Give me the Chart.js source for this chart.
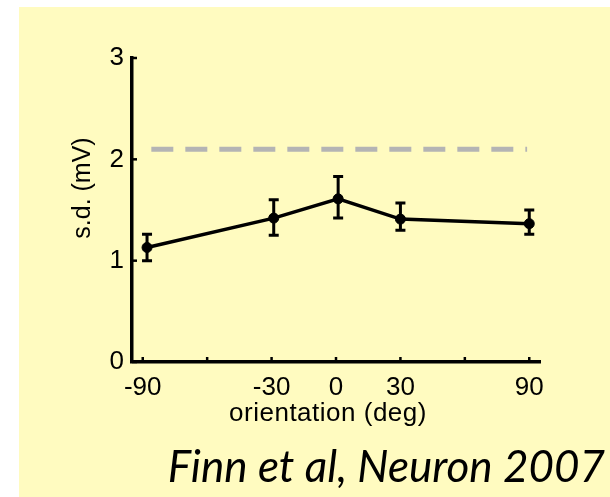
<!DOCTYPE html>
<html>
<head>
<meta charset="utf-8">
<script src="https://cdn.jsdelivr.net/npm/chart.js@4"></script>
<style>
  body { margin: 0; background: #fff; }
  #panel { position: absolute; left: 19px; top: 7px; width: 591px; height: 490px; background: #fffbc0; }
  #wrap { position: absolute; left: 0; top: 0; width: 610px; height: 497px; }
</style>
</head>
<body>
<div id="panel"></div>
<div id="wrap"><canvas id="sdChart" width="610" height="497"></canvas></div>
<script>
// orientation of the stimulus (deg) and membrane potential s.d. (mV)
const orientations = [-88, -29, 1, 30, 90];
const sdMean = [1.13, 1.42, 1.61, 1.41, 1.365];
const sdLow = [1.00, 1.25, 1.42, 1.30, 1.26];
const sdHigh = [1.26, 1.60, 1.83, 1.57, 1.50];

// dashed reference level
const refX = [-86, 89];
const refY = [2.1, 2.1];

const xTickValues = [-90, -60, -30, 0, 30, 60, 90];
const xTickLabels = ['-90', '', '-30', '0', '30', '', '90'];
const yTickValues = [0, 1, 2, 3];
const yTickLabels = ['0', '1', '2', '3'];

const axisFont = { family: 'Liberation Sans', size: 26 };

// error bars, inward tick marks, axis titles and caption
const extras = {
  id: 'extras',
  afterDatasetsDraw(chart) {
    const { ctx, chartArea } = chart;
    const x = chart.scales.x, y = chart.scales.y;
    ctx.save();
    ctx.strokeStyle = '#000';
    ctx.lineWidth = 3;
    orientations.forEach((o, i) => {
      const px = x.getPixelForValue(o);
      const top = y.getPixelForValue(sdHigh[i]);
      const bot = y.getPixelForValue(sdLow[i]);
      ctx.beginPath();
      ctx.moveTo(px, top); ctx.lineTo(px, bot);
      ctx.moveTo(px - 5, top); ctx.lineTo(px + 5, top);
      ctx.moveTo(px - 5, bot); ctx.lineTo(px + 5, bot);
      ctx.stroke();
    });
    ctx.lineWidth = 2.5;
    xTickValues.forEach(v => {
      const px = x.getPixelForValue(v);
      ctx.beginPath();
      ctx.moveTo(px, chartArea.bottom);
      ctx.lineTo(px, chartArea.bottom - 5);
      ctx.stroke();
    });
    yTickValues.forEach(v => {
      const py = y.getPixelForValue(v);
      ctx.beginPath();
      ctx.moveTo(chartArea.left, py);
      ctx.lineTo(chartArea.left + 5, py);
      ctx.stroke();
    });
    ctx.restore();
  },
  afterDraw(chart) {
    const { ctx } = chart;
    ctx.save();
    ctx.fillStyle = '#000';
    ctx.font = '26px "Liberation Sans"';
    ctx.textAlign = 'center';
    ctx.textBaseline = 'alphabetic';
    ctx.letterSpacing = '0.5px';
    ctx.fillText('orientation (deg)', 328, 421);

    ctx.letterSpacing = '0px';
    ctx.font = '25px "Liberation Sans"';
    ctx.translate(90, 188);
    ctx.rotate(-Math.PI / 2);
    ctx.fillText('s.d. (mV)', 0, 0);
    ctx.restore();

    ctx.save();
    ctx.fillStyle = '#000';
    ctx.font = 'italic 44px Lato';
    ctx.textAlign = 'right';
    ctx.textBaseline = 'alphabetic';
    ctx.fillText('Finn et al, Neuron 2007', 605, 482);
    ctx.restore();
  }
};

function initChart() {
  const ctx = document.getElementById('sdChart').getContext('2d');
  new Chart(ctx, {
    type: 'line',
    data: {
      datasets: [{
        label: 's.d.',
        data: orientations.map((o, i) => ({ x: o, y: sdMean[i] })),
        borderColor: '#000',
        borderWidth: 3.5,
        pointRadius: 5,
        pointBorderWidth: 1,
        pointBackgroundColor: '#000',
        pointBorderColor: '#000',
        tension: 0,
        order: 1
      }, {
        label: 'reference',
        data: refX.map((v, i) => ({ x: v, y: refY[i] })),
        borderColor: '#b4b4b4',
        borderWidth: 5,
        borderDash: [22, 12],
        borderCapStyle: 'butt',
        pointRadius: 0,
        order: 2
      }]
    },
    options: {
      responsive: false,
      animation: false,
      devicePixelRatio: 1,
      layout: { padding: { top: 58, right: 70, left: 0, bottom: 0 } },
      plugins: {
        legend: { display: false },
        tooltip: { enabled: false }
      },
      scales: {
        x: {
          type: 'linear',
          min: -95,
          max: 95,
          afterBuildTicks: s => { s.ticks = xTickValues.map(v => ({ value: v })); },
          afterFit: s => { s.height = 135; },
          ticks: {
            font: axisFont,
            color: '#000',
            padding: 2,
            maxRotation: 0,
            autoSkip: false,
            callback: (v, i) => xTickLabels[i]
          },
          grid: { display: false },
          border: { display: true, color: '#000', width: 3.5 }
        },
        y: {
          min: 0,
          max: 3,
          afterBuildTicks: s => { s.ticks = yTickValues.map(v => ({ value: v })); },
          afterFit: s => { s.width = 132; },
          ticks: {
            font: axisFont,
            color: '#000',
            padding: 0,
            callback: (v, i) => yTickLabels[i]
          },
          grid: { display: false },
          border: { display: true, color: '#000', width: 3.5 }
        }
      }
    },
    plugins: [extras]
  });
}

document.addEventListener('DOMContentLoaded', initChart);
</script>
</body>
</html>
